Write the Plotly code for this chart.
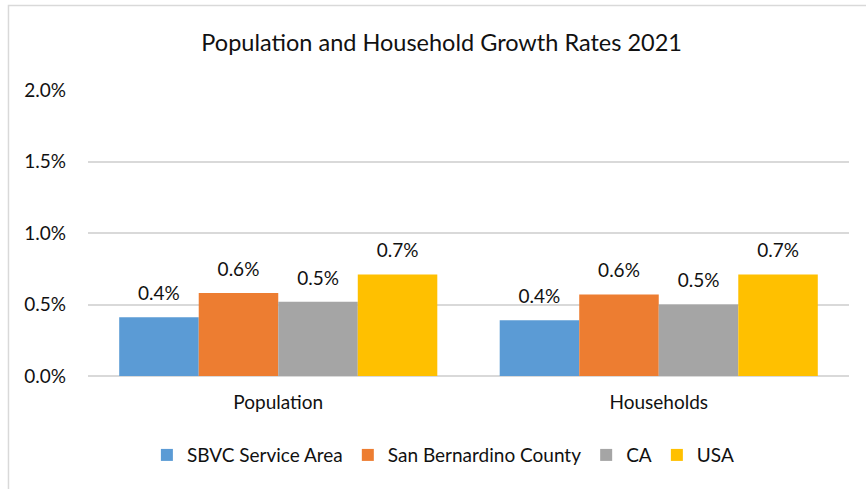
import plotly.graph_objects as go

categories = ["Population", "Households"]
series_names = ["SBVC Service Area", "San Bernardino County", "CA", "USA"]
series_colors = ["#5B9BD5", "#ED7D31", "#A5A5A5", "#FFC000"]
sbvc = [0.41, 0.39]
sb_county = [0.58, 0.57]
ca = [0.52, 0.50]
usa = [0.71, 0.71]
y_ticks = [0.0, 0.5, 1.0, 1.5, 2.0]
y_tick_labels = ["0.0%", "0.5%", "1.0%", "1.5%", "2.0%"]

series_values = [sbvc, sb_county, ca, usa]
FONT = "Lato"
TXT = "#111111"
FS = 19
label_pad = 0.07  # gap (in axis units) between bar top and its data label

fig = go.Figure()
for i, (name, vals, col) in enumerate(zip(series_names, series_values, series_colors)):
    fig.add_trace(go.Bar(
        x=categories, y=vals, name=name, marker=dict(color=col, line=dict(width=0)),
        offsetgroup=str(i), hoverinfo="skip",
    ))
for i, vals in enumerate(series_values):
    fig.add_trace(go.Bar(
        x=categories, y=[label_pad] * len(vals), base=vals, offsetgroup=str(i),
        marker=dict(color="rgba(0,0,0,0)", line=dict(width=0)),
        text=[f"{v:.1f}%" for v in vals], textposition="outside",
        textfont=dict(family=FONT, size=FS, color=TXT),
        cliponaxis=False, showlegend=False, hoverinfo="skip",
    ))

fig.update_layout(
    width=866, height=489,
    margin=dict(l=88, r=17, t=90, b=113),
    paper_bgcolor="white", plot_bgcolor="white",
    barmode="group", bargap=0.164, bargroupgap=0,
    font=dict(family=FONT, size=FS, color=TXT),
    title=dict(text="Population and Household Growth Rates 2021",
               x=0.51, xanchor="center", y=0.912, yanchor="middle",
               font=dict(family=FONT, size=23.5, color=TXT)),
    showlegend=True,
    legend=dict(orientation="h", x=0.467, xanchor="center", y=-0.21, yanchor="top",
                font=dict(family=FONT, size=FS, color=TXT), itemwidth=30,
                traceorder="normal"),
    xaxis=dict(showgrid=False, showline=False, ticks="", ticklabelstandoff=13,
               tickfont=dict(family=FONT, size=FS, color=TXT)),
    yaxis=dict(range=[0, 2.0], tickvals=y_ticks, ticktext=y_tick_labels,
               showgrid=True, gridcolor="#d9d9d9", gridwidth=1.5,
               zeroline=True, zerolinecolor="#d9d9d9", zerolinewidth=1.5,
               showline=False, ticks="", ticklabelstandoff=21,
               tickfont=dict(family=FONT, size=FS, color=TXT)),
    shapes=[dict(type="rect", xref="paper", yref="paper",
                 x0=-0.1045, x1=1.2, y0=-0.6, y1=1.2955,
                 line=dict(color="#d9d9d9", width=1.5), fillcolor="rgba(0,0,0,0)",
                 layer="below")],
)

fig.write_html("out.html", config={"displayModeBar": False},
               post_script="document.body.style.margin='0';")
